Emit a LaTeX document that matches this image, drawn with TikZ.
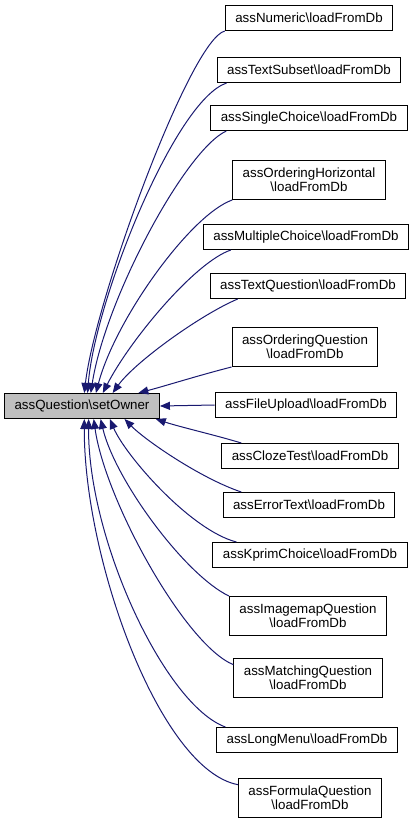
\documentclass[tikz,border=0pt]{standalone}
\usepackage{fontspec}
\setmainfont{Liberation Sans}
\usetikzlibrary{arrows.meta}
\definecolor{edgeblue}{HTML}{191970}
\newcommand{\bsl}{\textbackslash}
\tikzset{
  fn/.style={draw=black, line width=0.75pt, fill=white, inner xsep=7.5pt, inner ysep=0pt,
    minimum height=18.75pt, align=center, font=\fontsize{10}{10.5}\selectfont},
  fntwo/.style={fn, minimum height=29.25pt},
  rootfn/.style={fn, fill=black!25},
  call/.style={draw=edgeblue, line width=0.75pt, -{Triangle[length=7.5pt,width=6pt]}},
}
\begin{document}
\begin{tikzpicture}[x=0.75pt, y=-0.75pt]
    \useasboundingbox (0,0) rectangle (417,825);

    \node[rootfn] (setowner) at (82,406) {assQuestion\bsl setOwner};

    % Funcoes que chamam setOwner
    \node[fn]    (numeric)    at (309, 18) {assNumeric\bsl loadFromDb};
    \node[fn]    (textsubset) at (309, 70) {assTextSubset\bsl loadFromDb};
    \node[fn]    (single)     at (309,118) {assSingleChoice\bsl loadFromDb};
    \node[fntwo] (ordhoriz)   at (309,180) {assOrderingHorizontal\\\bsl loadFromDb};
    \node[fn]    (multiple)   at (306,237) {assMultipleChoice\bsl loadFromDb};
    \node[fn]    (textq)      at (308,286) {assTextQuestion\bsl loadFromDb};
    \node[fntwo] (ordquest)   at (305,347) {assOrderingQuestion\\\bsl loadFromDb};
    \node[fn]    (fileupload) at (306,405) {assFileUpload\bsl loadFromDb};
    \node[fn]    (cloze)      at (310,456) {assClozeTest\bsl loadFromDb};
    \node[fn]    (errortext)  at (309,505) {assErrorText\bsl loadFromDb};
    \node[fn]    (kprim)      at (310,555) {assKprimChoice\bsl loadFromDb};
    \node[fntwo] (imagemap)   at (308,616) {assImagemapQuestion\\\bsl loadFromDb};
    \node[fntwo] (matching)   at (308,678) {assMatchingQuestion\\\bsl loadFromDb};
    \node[fn]    (longmenu)   at (307,740) {assLongMenu\bsl loadFromDb};
    \node[fntwo] (formula)    at (310,798) {assFormulaQuestion\\\bsl loadFromDb};

    % Arestas (acima do no raiz)
    \draw[call] (numeric.south west) .. controls (190,40) and (95,300) .. (setowner.80);
    \draw[call] ([xshift=7.5pt]textsubset.south west) .. controls (175,100) and (95,300) .. (setowner.67);
    \draw[call] ([xshift=12pt]single.south west) .. controls (185,150) and (105,300) .. (setowner.56);
    \draw[call] (ordhoriz.south west) .. controls (190,215) and (115,320) .. (setowner.43);
    \draw[call] ([xshift=21pt]multiple.south west) .. controls (195,262) and (130,340) .. (setowner.32);
    \draw[call] ([xshift=21pt]textq.south west) .. controls (200,315) and (135,362) .. (setowner.23);
    \draw[call] (ordquest.south west) .. controls (200,375) and (165,386) .. (setowner.13);

    % Aresta horizontal
    \draw[call] (fileupload.west) -- (setowner.east);

    % Arestas (abaixo do no raiz)
    \draw[call] ([xshift=15pt]cloze.north west) .. controls (215,435) and (180,427) .. (setowner.350);
    \draw[call] ([xshift=14pt]errortext.north west) .. controls (200,478) and (145,440) .. (setowner.343);
    \draw[call] ([xshift=18pt]kprim.north west) .. controls (190,530) and (125,455) .. (setowner.335);
    \draw[call] (imagemap.north west) .. controls (185,575) and (115,480) .. (setowner.325);
    \draw[call] ([yshift=-5pt]matching.north west) .. controls (185,645) and (105,500) .. (setowner.312);
    \draw[call] ([xshift=7pt]longmenu.north west) .. controls (165,705) and (88,540) .. (setowner.297);
    \draw[call] ([yshift=-5pt]formula.north west) .. controls (160,770) and (84,560) .. (setowner.280);
\end{tikzpicture}
\end{document}
